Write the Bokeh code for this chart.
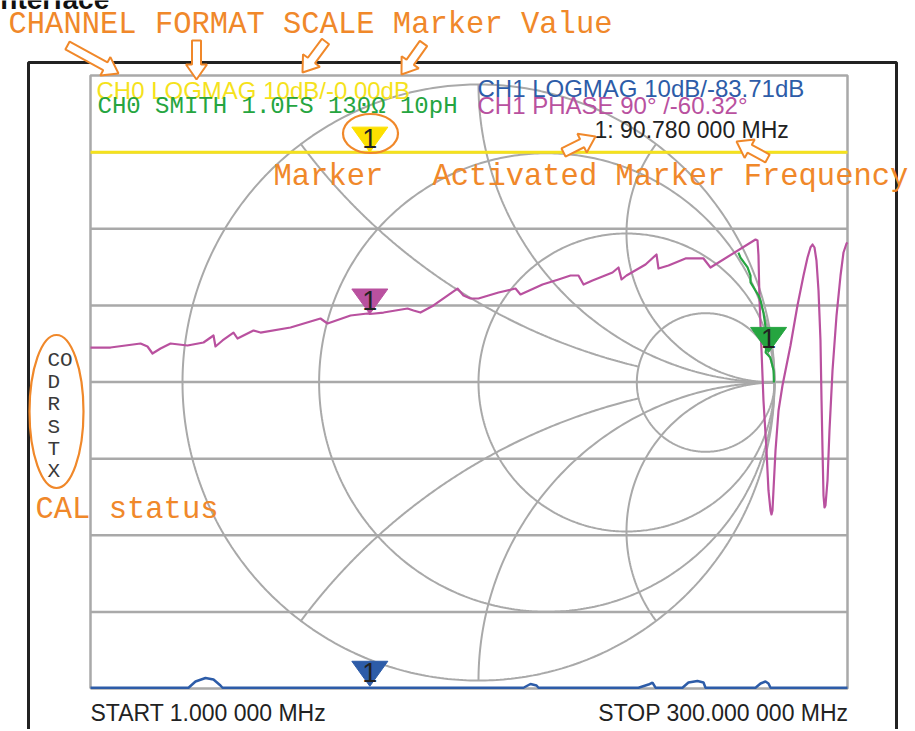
import numpy as np
from bokeh.plotting import figure
from bokeh.models import Range1d
from bokeh.core.properties import value
from bokeh.embed import file_html
from bokeh.resources import INLINE

# ---------------- data ----------------
sweep_start_mhz = 1.0
sweep_stop_mhz = 300.0
marker_freq_mhz = 90.78
marker_pos = 36.9            # marker position, % of sweep span

ch0_logmag_label = "CH0 LOGMAG 10dB/-0.00dB"
ch0_smith_label = "CH0 SMITH 1.0FS 130\u03a9 10pH"
ch1_logmag_label = "CH1 LOGMAG 10dB/-83.71dB"
ch1_phase_label = "CH1 PHASE 90\u00b0 /-60.32\u00b0"

# CH0 LOGMAG trace (dB) vs sweep position (%)
ch0_pos = [0.0, 25.0, 50.0, 75.0, 100.0]
ch0_db = [0.0, 0.0, 0.0, 0.0, 0.0]
marker_ch0_db = 0.0

# CH1 LOGMAG trace (dB) vs sweep position (%)
ch1_pos = [0.0, 12.95, 13.87, 15.19, 16.25, 17.17, 17.44, 57.20, 58.12, 58.92, 59.18,
           72.39, 73.71, 74.24, 74.64, 78.20, 78.99, 80.18, 80.98, 81.24,
           87.85, 88.51, 89.17, 89.56, 89.83, 100.0]
ch1_db = [-83.90, -83.90, -83.09, -82.63, -82.83, -83.61, -83.90, -83.90, -83.41, -83.61, -83.90,
          -83.90, -83.48, -83.22, -83.90, -83.90, -83.22, -83.02, -83.22, -83.90,
          -83.90, -83.35, -83.09, -83.35, -83.90, -83.90]
marker_ch1_db = -83.71

# CH1 PHASE trace (deg) vs sweep position (%)
phase_pos = [0.0, 2.64, 6.61, 7.53, 8.19, 9.25, 10.57, 12.81, 14.93, 16.25, 16.51, 17.44,
             18.89, 19.42, 21.53, 22.46, 26.42, 30.38, 31.31, 34.35, 36.59, 36.9, 38.71,
             41.88, 42.67, 43.59, 45.31, 48.48, 49.27, 50.20, 51.25, 53.90, 56.14, 56.80,
             59.71, 61.82, 63.41, 64.46, 65.13, 66.31, 68.96, 69.75, 70.15, 70.81, 73.32,
             74.77, 75.03, 76.35, 78.60, 80.98, 81.90, 87.85, 88.11, 88.24, 88.38, 88.64,
             88.90, 89.30, 89.56, 89.83, 89.96, 90.09, 90.22, 90.49, 90.89, 91.41, 92.47,
             93.39, 94.19, 94.72, 95.11, 95.38, 95.64, 95.90, 96.17, 96.43, 96.57, 96.70,
             96.83, 96.96, 97.09, 97.36, 97.62, 98.02, 98.55, 99.08, 99.47, 99.87, 100.0]
phase_deg = [-99.7, -99.7, -95.0, -98.5, -106.7, -100.8, -95.0, -97.3, -93.8, -85.6, -98.5, -91.4,
             -82.1, -89.1, -79.7, -82.1, -76.2, -65.6, -71.5, -62.1, -59.7, -60.3, -58.6,
             -53.9, -56.2, -58.6, -50.3, -30.4, -38.6, -42.1, -42.1, -35.1, -30.4, -37.4,
             -25.7, -19.8, -15.1, -15.1, -25.7, -21.0, -11.6, -5.7, -19.8, -15.1, -2.2,
             9.6, -6.9, -3.4, 4.9, 4.9, -5.7, 27.2, 26.0, 8.4, -44.5, -103.2,
             -161.9, -220.6, -267.6, -291.1, -295.8, -291.1, -267.6, -220.6, -173.7, -144.3, -97.3,
             -50.3, -15.1, 6.0, 17.8, 21.3, 17.8, 2.5, -32.7, -91.4, -161.9, -220.6,
             -273.5, -287.6, -285.2, -255.9, -197.1, -126.7, -62.1, -15.1, 11.9, 22.5, 23.7]
marker_ch1_deg = -60.32

# CH0 SMITH trace, reflection coefficient (real, imag)
smith_re = [0.878, 0.885, 0.909, 0.919, 0.919, 0.946, 0.953, 0.963, 0.970, 0.976, 0.970, 0.986, 0.997, 0.998]
smith_im = [0.436, 0.419, 0.386, 0.359, 0.336, 0.292, 0.275, 0.232, 0.185, 0.141, 0.101, 0.084, 0.040, 0.0]
marker_smith = (0.980, 0.101)

# Smith chart grid values
smith_r = [0.0, 0.3, 1.0, 3.3]
smith_x = [0.5, 1.0, 2.0, -0.5, -1.0, -2.0]

cal_status = ["CO", "D", "R", "S", "T", "X"]

# ---------------- layout (screen pixels of the page) ----------------
W, H = 913, 729
X0, Y0 = 0, 0
GL, GR, GT, GB = 90.0, 847.0, 75.0, 688.0
NDIV = 8
DIV = (GB - GT) / NDIV
SCX, SCY, SRX, SRY = 478.0, 382.0, 296.0, 298.0
PHASE_REF_Y = 313.5
CH0_REF_Y = GT + DIV

ORANGE = "#f0882a"
GRAY = "#a9a9a9"
YEL = "#f5e21c"
BLUE = "#2d5ca8"
MAG = "#b9519f"
GRN = "#25a540"

xs_px = (X0, X0 + W)
ys_px = (Y0 + H, Y0)

p = figure(width=W, height=H, x_range=Range1d(*xs_px), y_range=Range1d(*ys_px),
           output_backend="svg", toolbar_location=None, min_border=0,
           x_axis_location=None, y_axis_location=None)
p.grid.visible = False
p.outline_line_color = None
p.background_fill_color = "white"
p.border_fill_color = "white"

ppp = (GR - GL) / 100.0  # px per % of sweep


def rng_x(f):
    return Range1d(f(xs_px[0]), f(xs_px[1]))


def rng_y(f):
    return Range1d(f(ys_px[0]), f(ys_px[1]))


p.extra_x_ranges = {
    "sweep": rng_x(lambda X: (X - GL) / ppp),
    "gx": rng_x(lambda X: (X - SCX) / SRX),
}
p.extra_y_ranges = {
    "db0": rng_y(lambda Y: (CH0_REF_Y - Y) / DIV * 10.0),
    "db1": rng_y(lambda Y: -84.0 + (GB - Y) / DIV * 10.0),
    "deg": rng_y(lambda Y: marker_ch1_deg + (PHASE_REF_Y - Y) / DIV * 90.0),
    "gy": rng_y(lambda Y: (SCY - Y) / SRY),
}

# outer instrument frame
p.line([28, 28, 896, 896], [760, 62, 62, 760], line_color="#222222", line_width=3)

# graticule
gy_lines = [GT + i * DIV for i in range(1, NDIV)]
p.segment(x0=[GL] * len(gy_lines), x1=[GR] * len(gy_lines), y0=gy_lines, y1=gy_lines,
          line_color=GRAY, line_width=2.5)
p.line([GL, GL, GR, GR, GL], [GB, GT, GT, GB, GB], line_color=GRAY, line_width=2.5)

# Smith chart
th = np.linspace(0, 2 * np.pi, 500)
for r in smith_r:
    c, rad = r / (1 + r), 1 / (1 + r)
    p.line(c + rad * np.cos(th), rad * np.sin(th), x_range_name="gx", y_range_name="gy",
           line_color=GRAY, line_width=2)
for xv in smith_x:
    rmax = smith_r[-1] if abs(xv) < 0.75 else 1e4
    rr = np.concatenate([[0.0], np.geomspace(1e-3, rmax, 500)])
    g = (rr + 1j * xv - 1) / (rr + 1j * xv + 1)
    p.line(g.real, g.imag, x_range_name="gx", y_range_name="gy", line_color=GRAY, line_width=2)

# traces
p.line(ch0_pos, ch0_db, x_range_name="sweep", y_range_name="db0", line_color=YEL, line_width=3)
p.line(ch1_pos, ch1_db, x_range_name="sweep", y_range_name="db1", line_color=BLUE, line_width=2.5)
p.line(phase_pos, phase_deg, x_range_name="sweep", y_range_name="deg", line_color=MAG,
       line_width=2.2, line_join="round")
p.line(smith_re, smith_im, x_range_name="gx", y_range_name="gy", line_color=GRN, line_width=2.2)

# markers (inverted triangles with tip on the trace)
TW, TH = 36.0, 25.0


def marker(xv, yv, xname, yname, xscale, yscale, color):
    hw = TW / 2 / xscale
    h = TH / yscale
    p.patch([xv - hw, xv + hw, xv], [yv + h, yv + h, yv], x_range_name=xname, y_range_name=yname,
            fill_color=color, line_color=color)
    p.text([xv], [yv + h * 0.55], text=["1"], x_range_name=xname, y_range_name=yname,
           text_align="center", text_baseline="middle", text_color="#222222",
           text_font=value("Liberation Sans"), text_font_size="27px")


marker(marker_pos, marker_ch0_db, "sweep", "db0", ppp, DIV / 10.0, "#fde000")
marker(marker_pos, marker_ch1_deg, "sweep", "deg", ppp, DIV / 90.0, MAG)
marker(marker_pos, marker_ch1_db, "sweep", "db1", ppp, DIV / 10.0, BLUE)
marker(marker_smith[0], marker_smith[1], "gx", "gy", SRX, SRY, GRN)

# instrument texts
sans = value("Liberation Sans")
mono = value("Liberation Mono")


def txt(x, y, s, color, font, size, align="left", style="normal"):
    # y is the wanted baseline; the rendered baseline sits ~1/3 em lower, compensate
    y_adj = y - 0.33 * size
    p.text([x], [y_adj], text=[s], text_color=color, text_font=font, text_font_size=f"{size}px",
           text_align=align, text_baseline="alphabetic", text_font_style=style)


def mhz(v):
    s = f"{v:.6f}"
    return s[:-3] + " " + s[-3:]


txt(-8, 8, "Interface", "#111111", sans, 28, style="bold")

txt(96, 98, ch0_logmag_label, YEL, sans, 24)
txt(97, 114, ch0_smith_label, GRN, mono, 24)
txt(477, 96, ch1_logmag_label, BLUE, sans, 24)
txt(477, 113, ch1_phase_label, MAG, sans, 24)
txt(594, 137, f"1: {mhz(marker_freq_mhz)} MHz", "#222222", sans, 23)
txt(90, 720, f"START {mhz(sweep_start_mhz)} MHz", "#222222", sans, 23)
txt(848, 720, f"STOP {mhz(sweep_stop_mhz)} MHz", "#222222", sans, 23, align="right")

for i, s in enumerate(cal_status):
    txt(47, 367 + 22.2 * i, s, "#3a3a3a", mono, 21)

# orange annotations
ofs = 30.5
txt(8, 35, "CHANNEL FORMAT SCALE Marker Value", ORANGE, mono, ofs)
txt(273, 187, "Marker", ORANGE, mono, ofs)
txt(432, 187, "Activated Marker Frequency", ORANGE, mono, ofs)
txt(35, 520, "CAL status", ORANGE, mono, ofs)

p.ellipse(x=[370, 56], y=[133, 411], width=[55, 54], height=[39, 153],
          fill_color=None, line_color=ORANGE, line_width=2.2)


def block_arrow(x0, y0, x1, y1, sw=9.0, hw=21.0, hl=15.0):
    dx, dy = x1 - x0, y1 - y0
    L = np.hypot(dx, dy)
    ux, uy = dx / L, dy / L
    nx, ny = -uy, ux
    bx, by = x1 - ux * hl, y1 - uy * hl
    pts = [(x0 + nx * sw / 2, y0 + ny * sw / 2), (bx + nx * sw / 2, by + ny * sw / 2),
           (bx + nx * hw / 2, by + ny * hw / 2), (x1, y1),
           (bx - nx * hw / 2, by - ny * hw / 2), (bx - nx * sw / 2, by - ny * sw / 2),
           (x0 - nx * sw / 2, y0 - ny * sw / 2), (x0 + nx * sw / 2, y0 + ny * sw / 2)]
    p.patch([q[0] for q in pts], [q[1] for q in pts], fill_color="white",
            line_color=ORANGE, line_width=2)


for a in [(67, 45, 118, 73), (196, 40, 196, 79), (325, 41, 302, 72), (423, 43, 401, 74),
          (563, 152, 595, 136), (767, 158, 736, 141)]:
    block_arrow(*a)

open("out.html", "w").write(file_html(p, INLINE))
